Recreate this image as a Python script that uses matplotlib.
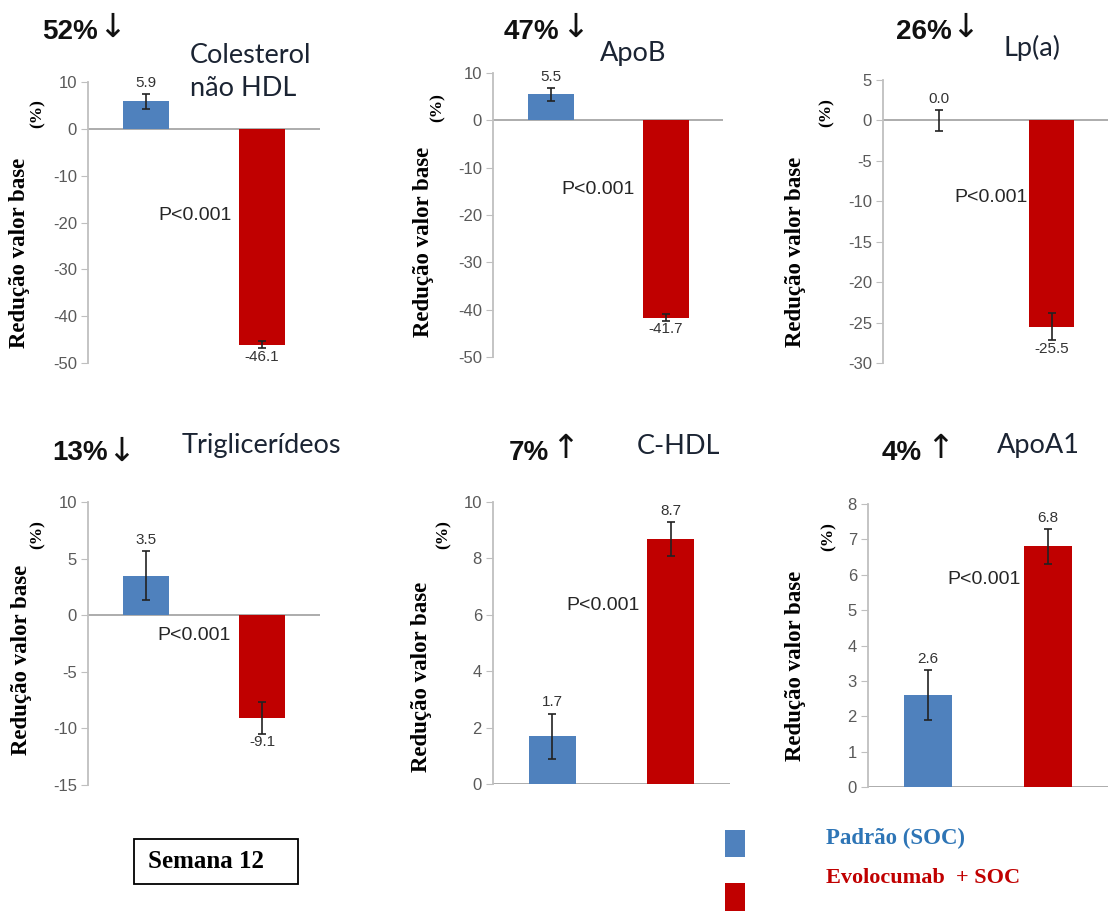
import matplotlib.pyplot as plt
from matplotlib.patches import Rectangle

plt.rcParams["axes.unicode_minus"] = False

W, H = 1108, 911

# Week 12 percent change from baseline: standard of care vs evolocumab + SOC
panels = ["Colesterol\nnão HDL", "ApoB", "Lp(a)", "Triglicerídeos", "C-HDL", "ApoA1"]
headline = ["52%", "47%", "26%", "13%", "7%", "4%"]
arrows = ["↓", "↓", "↓", "↓", "↑", "↑"]
soc_vals = [5.9, 5.5, 0.0, 3.5, 1.7, 2.6]
soc_err = [1.6, 1.4, 1.3, 2.2, 0.8, 0.7]
evo_vals = [-46.1, -41.7, -25.5, -9.1, 8.7, 6.8]
evo_err = [0.8, 0.7, 1.7, 1.4, 0.6, 0.5]
y_ranges = [(-50, 10), (-50, 10), (-30, 5), (-15, 10), (0, 10), (0, 8)]
y_steps = [10, 10, 5, 5, 2, 1]
p_text = "P<0.001"

BLUE = "#4f81bd"
RED = "#c00000"

sans = ["Liberation Sans", "DejaVu Sans"]
calib = ["Lato", "DejaVu Sans"]
serif = ["Liberation Serif", "DejaVu Serif"]

# panel layout in pixels: axis left, axis right, top tick, bottom tick
boxes = [(88, 320, 82, 363), (493, 723, 73, 357), (883, 1108, 80, 363),
         (88, 320, 502, 785), (493, 730, 502, 784), (868, 1108, 504, 787)]
head_pos = [(42, 32), (504, 32), (896, 32), (52, 453), (509, 453), (882, 453)]
arrow_pos = [(112, 27), (575, 27), (965, 27), (121, 451), (565, 449), (940, 449)]
name_pos = [(190, 72), (600, 53), (1003, 48), (182, 445), (637, 446), (997, 446)]
p_pos = [(158, 215), (561, 190), (954, 197), (157, 635), (566, 605), (947, 580)]
ylab_pos = [(20, 253), (423, 242), (795, 252), (22, 660), (422, 677), (796, 666)]
pct_pos = [(38, 114), (438, 108), (827, 113), (38, 535), (444, 535), (829, 537)]


def fx(x):
    return x / W


def fy(y):
    return 1 - y / H


fig = plt.figure(figsize=(W / 100, H / 100), dpi=100)

for i in range(6):
    l, r, t, b = boxes[i]
    ax = fig.add_axes([fx(l), fy(b), (r - l) / W, (b - t) / H])
    lo, hi = y_ranges[i]
    ax.set_ylim(lo, hi)
    ax.set_xlim(-0.5, 1.5)
    vals = [soc_vals[i], evo_vals[i]]
    errs = [soc_err[i], evo_err[i]]
    ax.bar([0, 1], vals, width=0.4, color=[BLUE, RED], zorder=2)
    ax.errorbar([0, 1], vals, yerr=errs, fmt="none", ecolor="#222222",
                elinewidth=1.2, capsize=3, capthick=1.2, zorder=3)
    ax.axhline(0, color="#a6a6a6", lw=1.3, zorder=1)
    for xi, v, e in zip([0, 1], vals, errs):
        if v >= 0:
            ax.annotate(f"{v:.1f}", (xi, v + e), xytext=(0, 3), textcoords="offset points",
                        ha="center", va="bottom", fontsize=11, color="#333333", family=sans)
        else:
            ax.annotate(f"{v:.1f}", (xi, v - e), xytext=(0, -1), textcoords="offset points",
                        ha="center", va="top", fontsize=11, color="#333333", family=sans)

    step = y_steps[i]
    ax.set_yticks(list(range(lo, hi + 1, step)))
    ax.tick_params(axis="y", length=5, color="#bfbfbf", labelsize=12,
                   labelcolor="#595959", pad=3)
    for lab in ax.get_yticklabels():
        lab.set_family(sans)
    ax.set_xticks([])
    for s in ["top", "right", "bottom"]:
        ax.spines[s].set_visible(False)
    ax.spines["left"].set_color("#bfbfbf")
    ax.spines["left"].set_linewidth(1.3)
    ax.patch.set_alpha(0)

    fig.text(fx(head_pos[i][0]), fy(head_pos[i][1]), headline[i], fontsize=20,
             fontweight="bold", family=sans, ha="left", va="center", color="#111111")
    fig.text(fx(arrow_pos[i][0]), fy(arrow_pos[i][1]), arrows[i], fontsize=24,
             family=["DejaVu Sans"], ha="center", va="center", color="#111111")
    fig.text(fx(name_pos[i][0]), fy(name_pos[i][1]), panels[i], fontsize=19.5,
             family=calib, ha="left", va="center", color="#1b2433", linespacing=1.4)
    fig.text(fx(p_pos[i][0]), fy(p_pos[i][1]), p_text, fontsize=14,
             family=sans, ha="left", va="center", color="#262626")
    fig.text(fx(ylab_pos[i][0]), fy(ylab_pos[i][1]), "Redução valor base", fontsize=16.5,
             fontweight="bold", family=serif, rotation=90, ha="center", va="center")
    fig.text(fx(pct_pos[i][0]), fy(pct_pos[i][1]), "(%)", fontsize=12.5,
             fontweight="bold", family=serif, rotation=90, ha="center", va="center")

# "Semana 12" box
fig.add_artist(Rectangle((fx(134), fy(884)), 164 / W, 45 / H, transform=fig.transFigure,
                         facecolor="white", edgecolor="black", lw=1.3))
fig.text(fx(206), fy(862), "Semana 12", fontsize=18, fontweight="bold", family=serif,
         ha="center", va="center")

# legend
fig.add_artist(Rectangle((fx(725), fy(857)), 20 / W, 27 / H, transform=fig.transFigure,
                         facecolor=BLUE, edgecolor="none"))
fig.add_artist(Rectangle((fx(725), fy(911)), 20 / W, 28 / H, transform=fig.transFigure,
                         facecolor=RED, edgecolor="none"))
fig.text(fx(826), fy(838), "Padrão (SOC)", fontsize=16.5, fontweight="bold", family=serif,
         color="#2e75b6", ha="left", va="center")
fig.text(fx(826), fy(878), "Evolocumab  + SOC", fontsize=16, fontweight="bold", family=serif,
         color=RED, ha="left", va="center")

fig.savefig("out.png", dpi=100)
